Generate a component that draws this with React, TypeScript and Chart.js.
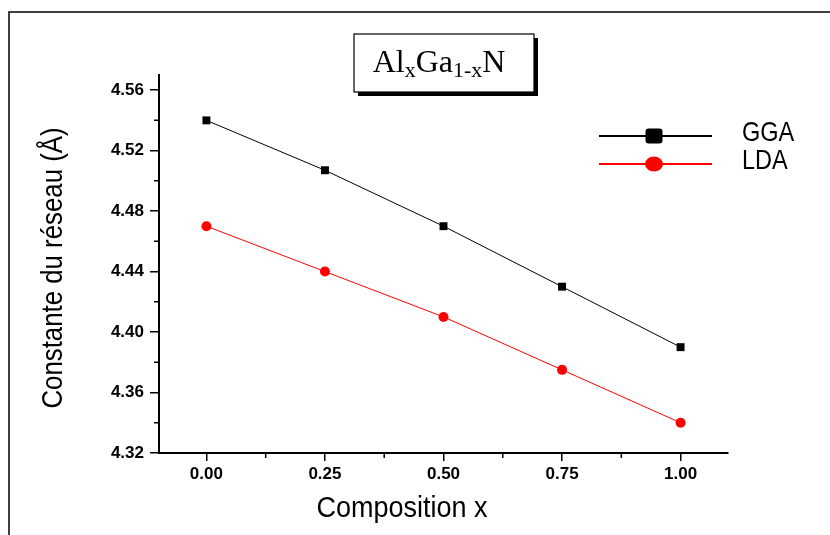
import React, { useEffect, useRef } from 'react';
import { Chart, registerables } from 'chart.js';

Chart.register(...registerables);

// ---- data ----
const compositions = [0, 0.25, 0.5, 0.75, 1.0];
const ggaValues = [4.54, 4.507, 4.47, 4.43, 4.39];
const ldaValues = [4.47, 4.44, 4.41, 4.375, 4.34];
const seriesLabels = ['GGA', 'LDA'];
const xMajorTicks = [0, 0.25, 0.5, 0.75, 1.0];
const xMinorTicks = [0.125, 0.375, 0.625, 0.875];
const yMajorTicks = [4.32, 4.36, 4.4, 4.44, 4.48, 4.52, 4.56];
const yMinorTicks = [4.34, 4.38, 4.42, 4.46, 4.5, 4.54];
const xTitle = 'Composition x';
const yTitle = 'Constante du réseau (Å)';

const SANS = '"Liberation Sans", Arial, sans-serif';
const SERIF = '"Liberation Serif", "Times New Roman", serif';

// draw horizontally condensed text (emulates a narrow face)
function fillNarrow(ctx: any, text: string, x: number, y: number, sx: number, align: string) {
  ctx.save();
  ctx.translate(x, y);
  ctx.scale(sx, 1);
  ctx.textAlign = align;
  ctx.fillText(text, 0, 0);
  ctx.restore();
}

const decorPlugin = {
  id: 'decor',
  afterDraw(chart: any) {
    const ctx = chart.ctx;
    const area = chart.chartArea;
    const xs = chart.scales.x;
    const ys = chart.scales.y;
    ctx.save();

    // outer frame
    ctx.strokeStyle = '#000';
    ctx.lineWidth = 1.5;
    ctx.strokeRect(9, 12, 1000, 1000);

    // minor ticks
    ctx.lineWidth = 1.5;
    ctx.beginPath();
    xMinorTicks.forEach((v) => {
      const px = xs.getPixelForValue(v);
      ctx.moveTo(px, area.bottom);
      ctx.lineTo(px, area.bottom + 5);
    });
    yMinorTicks.forEach((v) => {
      const py = ys.getPixelForValue(v);
      ctx.moveTo(area.left, py);
      ctx.lineTo(area.left - 5, py);
    });
    ctx.stroke();

    // axis titles
    ctx.fillStyle = '#000';
    ctx.font = `30px ${SANS}`;
    ctx.textBaseline = 'alphabetic';
    fillNarrow(ctx, xTitle, area.left + 243, area.bottom + 64, 0.9, 'center');
    ctx.save();
    ctx.translate(62, (area.top + area.bottom) / 2 + 4);
    ctx.rotate(-Math.PI / 2);
    fillNarrow(ctx, yTitle, 0, 0, 0.86, 'center');
    ctx.restore();

    // legend
    const legendX0 = area.left + 440;
    const legendX1 = area.left + 553;
    const markX = area.left + 495;
    const legendY = [area.top + 61, area.top + 89];
    chart.data.datasets.forEach((ds: any, i: number) => {
      const y = legendY[i];
      ctx.strokeStyle = ds.borderColor;
      ctx.lineWidth = 2;
      ctx.beginPath();
      ctx.moveTo(legendX0, y);
      ctx.lineTo(legendX1, y);
      ctx.stroke();
      ctx.fillStyle = ds.backgroundColor;
      ctx.beginPath();
      if (ds.pointStyle === 'rect') {
        ctx.roundRect(markX - 8.5, y - 7.5, 17, 15, 3);
      } else {
        ctx.ellipse(markX, y, 9, 7.5, 0, 0, Math.PI * 2);
      }
      ctx.fill();
      ctx.fillStyle = '#000';
      ctx.font = `28px ${SANS}`;
      ctx.textBaseline = 'middle';
      fillNarrow(ctx, ds.label, area.left + 583, y - 3, 0.84, 'left');
    });

    // title box
    const bx = 354, by = 34, bw = 180, bh = 58;
    ctx.fillStyle = '#000';
    ctx.fillRect(bx + 4, by + 4, bw, bh);
    ctx.fillStyle = '#fff';
    ctx.fillRect(bx, by, bw, bh);
    ctx.strokeStyle = '#000';
    ctx.lineWidth = 1.2;
    ctx.strokeRect(bx, by, bw, bh);

    const parts: [string, boolean][] = [['Al', false], ['x', true], ['Ga', false], ['1-x', true], ['N', false]];
    const big = `32px ${SERIF}`;
    const small = `22px ${SERIF}`;
    let total = 0;
    parts.forEach(([t, sub]) => {
      ctx.font = sub ? small : big;
      total += ctx.measureText(t).width;
    });
    let cx = bx + bw / 2 - 5 - total / 2;
    const base = by + 38;
    ctx.fillStyle = '#000';
    ctx.textAlign = 'left';
    ctx.textBaseline = 'alphabetic';
    parts.forEach(([t, sub]) => {
      ctx.font = sub ? small : big;
      ctx.fillText(t, cx, sub ? base + 5 : base);
      cx += ctx.measureText(t).width;
    });

    ctx.restore();
  },
};

export default function App() {
  const ref = useRef<HTMLCanvasElement>(null);
  useEffect(() => {
    if (!ref.current) return;
    const chart = new Chart(ref.current, {
      type: 'line',
      data: {
        datasets: [
          {
            label: seriesLabels[0],
            data: compositions.map((x, i) => ({ x, y: ggaValues[i] })),
            borderColor: '#000000',
            backgroundColor: '#000000',
            borderWidth: 1,
            pointStyle: 'rect',
            pointRadius: 5.6,
            pointBorderWidth: 0,
          },
          {
            label: seriesLabels[1],
            data: compositions.map((x, i) => ({ x, y: ldaValues[i] })),
            borderColor: '#ff0000',
            backgroundColor: '#ff0000',
            borderWidth: 1,
            pointStyle: 'circle',
            pointRadius: 5,
            pointBorderWidth: 0,
          },
        ],
      },
      options: {
        animation: false,
        responsive: false,
        maintainAspectRatio: false,
        layout: { padding: { top: 75, right: 102, left: 0, bottom: 0 } },
        plugins: { legend: { display: false }, tooltip: { enabled: false } },
        scales: {
          x: {
            type: 'linear',
            min: -0.1,
            max: 1.1,
            afterBuildTicks: (s: any) => {
              s.ticks = xMajorTicks.map((v) => ({ value: v }));
            },
            afterFit: (s: any) => {
              s.height = 82;
            },
            ticks: {
              callback: (v: any) => Number(v).toFixed(2),
              color: '#000',
              font: { family: SANS, size: 17, weight: 'bold' },
              padding: 3,
              maxRotation: 0,
            },
            grid: { drawOnChartArea: false, drawTicks: true, tickLength: 8, color: '#000', lineWidth: 1.5 },
            border: { display: true, color: '#000', width: 2 },
          },
          y: {
            type: 'linear',
            min: 4.32,
            max: 4.57,
            afterBuildTicks: (s: any) => {
              s.ticks = yMajorTicks.map((v) => ({ value: v }));
            },
            afterFit: (s: any) => {
              s.width = 159;
            },
            ticks: {
              callback: (v: any) => Number(v).toFixed(2),
              color: '#000',
              font: { family: SANS, size: 17, weight: 'bold' },
              padding: 6,
            },
            grid: { drawOnChartArea: false, drawTicks: true, tickLength: 9, color: '#000', lineWidth: 1.5 },
            border: { display: true, color: '#000', width: 2 },
          },
        },
      },
      plugins: [decorPlugin],
    } as any);
    return () => chart.destroy();
  }, []);
  return (
    <div style={{ position: 'fixed', left: 0, top: 0, width: 830, height: 535, background: '#fff' }}>
      <canvas ref={ref} width={830} height={535} style={{ display: 'block' }} />
    </div>
  );
}
